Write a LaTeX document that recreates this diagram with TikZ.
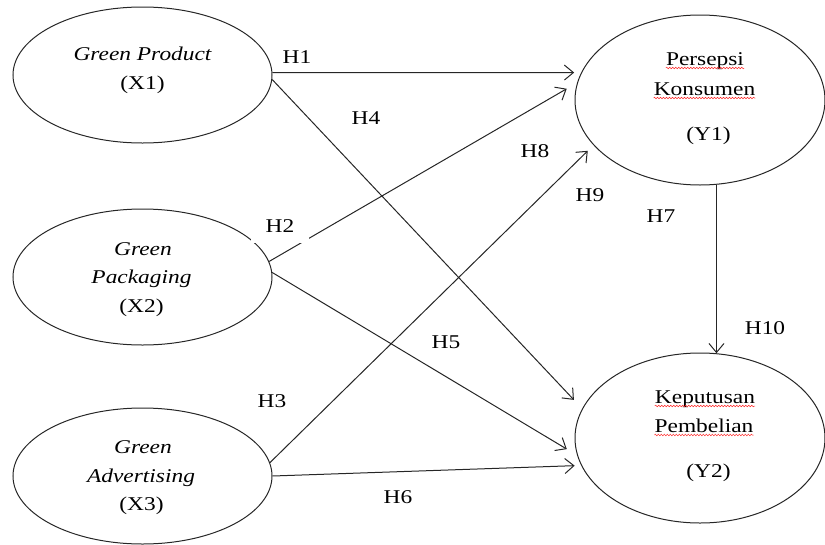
\documentclass[tikz,border=0pt]{standalone}
\usepackage{fontspec}
\setmainfont{Liberation Serif}[FakeStretch=1.2]
\usetikzlibrary{shapes.geometric,arrows.meta,decorations.pathmorphing}
\begin{document}
\begin{tikzpicture}[x=1pt,y=-1pt,
  latentx/.style={draw=black!85, line width=1pt, ellipse, minimum width=259pt, minimum height=136pt, inner sep=0pt},
  latenty/.style={draw=black!85, line width=1pt, ellipse, minimum width=250pt, minimum height=170pt, inner sep=0pt},
  txt/.style={inner sep=0pt, anchor=base, font=\fontsize{19.5}{23}\selectfont},
  itxt/.style={txt, font=\fontsize{19.5}{23}\selectfont\itshape},
  hyp/.style={inner sep=0pt, anchor=base, font=\fontsize{19.5}{23}\selectfont},
  conn/.style={draw=black!85, line width=1pt, -{Straight Barb[length=9pt,width=15pt]}},
  spell/.style={draw=red!85, line width=0.5pt, decorate, decoration={snake, amplitude=0.8pt, segment length=3pt}}]
\useasboundingbox (0,0) rectangle (825,544);

% constructs
\node[latentx] (x1) at (142.5,75) {};
\node[latentx] (x2) at (142.5,277) {};
\node[latentx] (x3) at (142.5,476) {};
\node[latenty] (y1) at (700,100) {};
\node[latenty] (y2) at (700,438) {};

% texts
\node[itxt] (x1a) at (142.5,60.5) {Green Product};
\node[txt]  (x1b) at (142.5,89) {(X1)};
\node[itxt] (x2a) at (143,255) {Green};
\node[itxt] (x2b) at (141.5,283) {Packaging};
\node[txt]  (x2c) at (141.5,312) {(X2)};
\node[itxt] (x3a) at (143,453) {Green};
\node[itxt] (x3b) at (141,482) {Advertising};
\node[txt]  (x3c) at (141.5,510) {(X3)};
\node[txt]  (y1a) at (705,65) {Persepsi};
\node[txt]  (y1b) at (704.5,95) {Konsumen};
\node[txt]  (y1c) at (708.5,140) {(Y1)};
\node[txt]  (y2a) at (705,403) {Keputusan};
\node[txt]  (y2b) at (704,432) {Pembelian};
\node[txt]  (y2c) at (708.5,477) {(Y2)};

\foreach \n in {y1a,y1b,y2a,y2b}
  \draw[spell] ([yshift=-3pt]\n.base west) -- ([yshift=-3pt]\n.base east);

% connectors
\draw[conn, shorten >=7pt] (x1.1) -- (y1.167);
\draw[conn, shorten >=12pt] (x1.-2) -- (y2.166);
\draw[conn, shorten >=12pt] (x2.7) -- (y1.172);
\draw[conn, shorten >=12pt] (x2.2) -- (y2.188);
\draw[conn, shorten >=8pt] (x3.6) -- (y1.203);
\draw[conn, shorten >=6.5pt] (x3.0) -- (y2.193);
\draw[conn] (y1.-79) -- (y2.79);

% hypothesis labels
\node[hyp] (h1) at (297,63) {H1};
\node[hyp] (h4) at (366,124) {H4};
\node[hyp] (h8) at (535,157) {H8};
\node[hyp] (h9) at (590,201) {H9};
\node[hyp] (h7) at (661,222) {H7};
\node[hyp, fill=white, minimum width=58pt, minimum height=34pt, anchor=south] (h2) at (280,243) {H2};
\node[hyp] (h10) at (765,334) {H10};
\node[hyp] (h5) at (446,348) {H5};
\node[hyp] (h3) at (272,407) {H3};
\node[hyp] (h6) at (398,503) {H6};
\end{tikzpicture}
\end{document}
